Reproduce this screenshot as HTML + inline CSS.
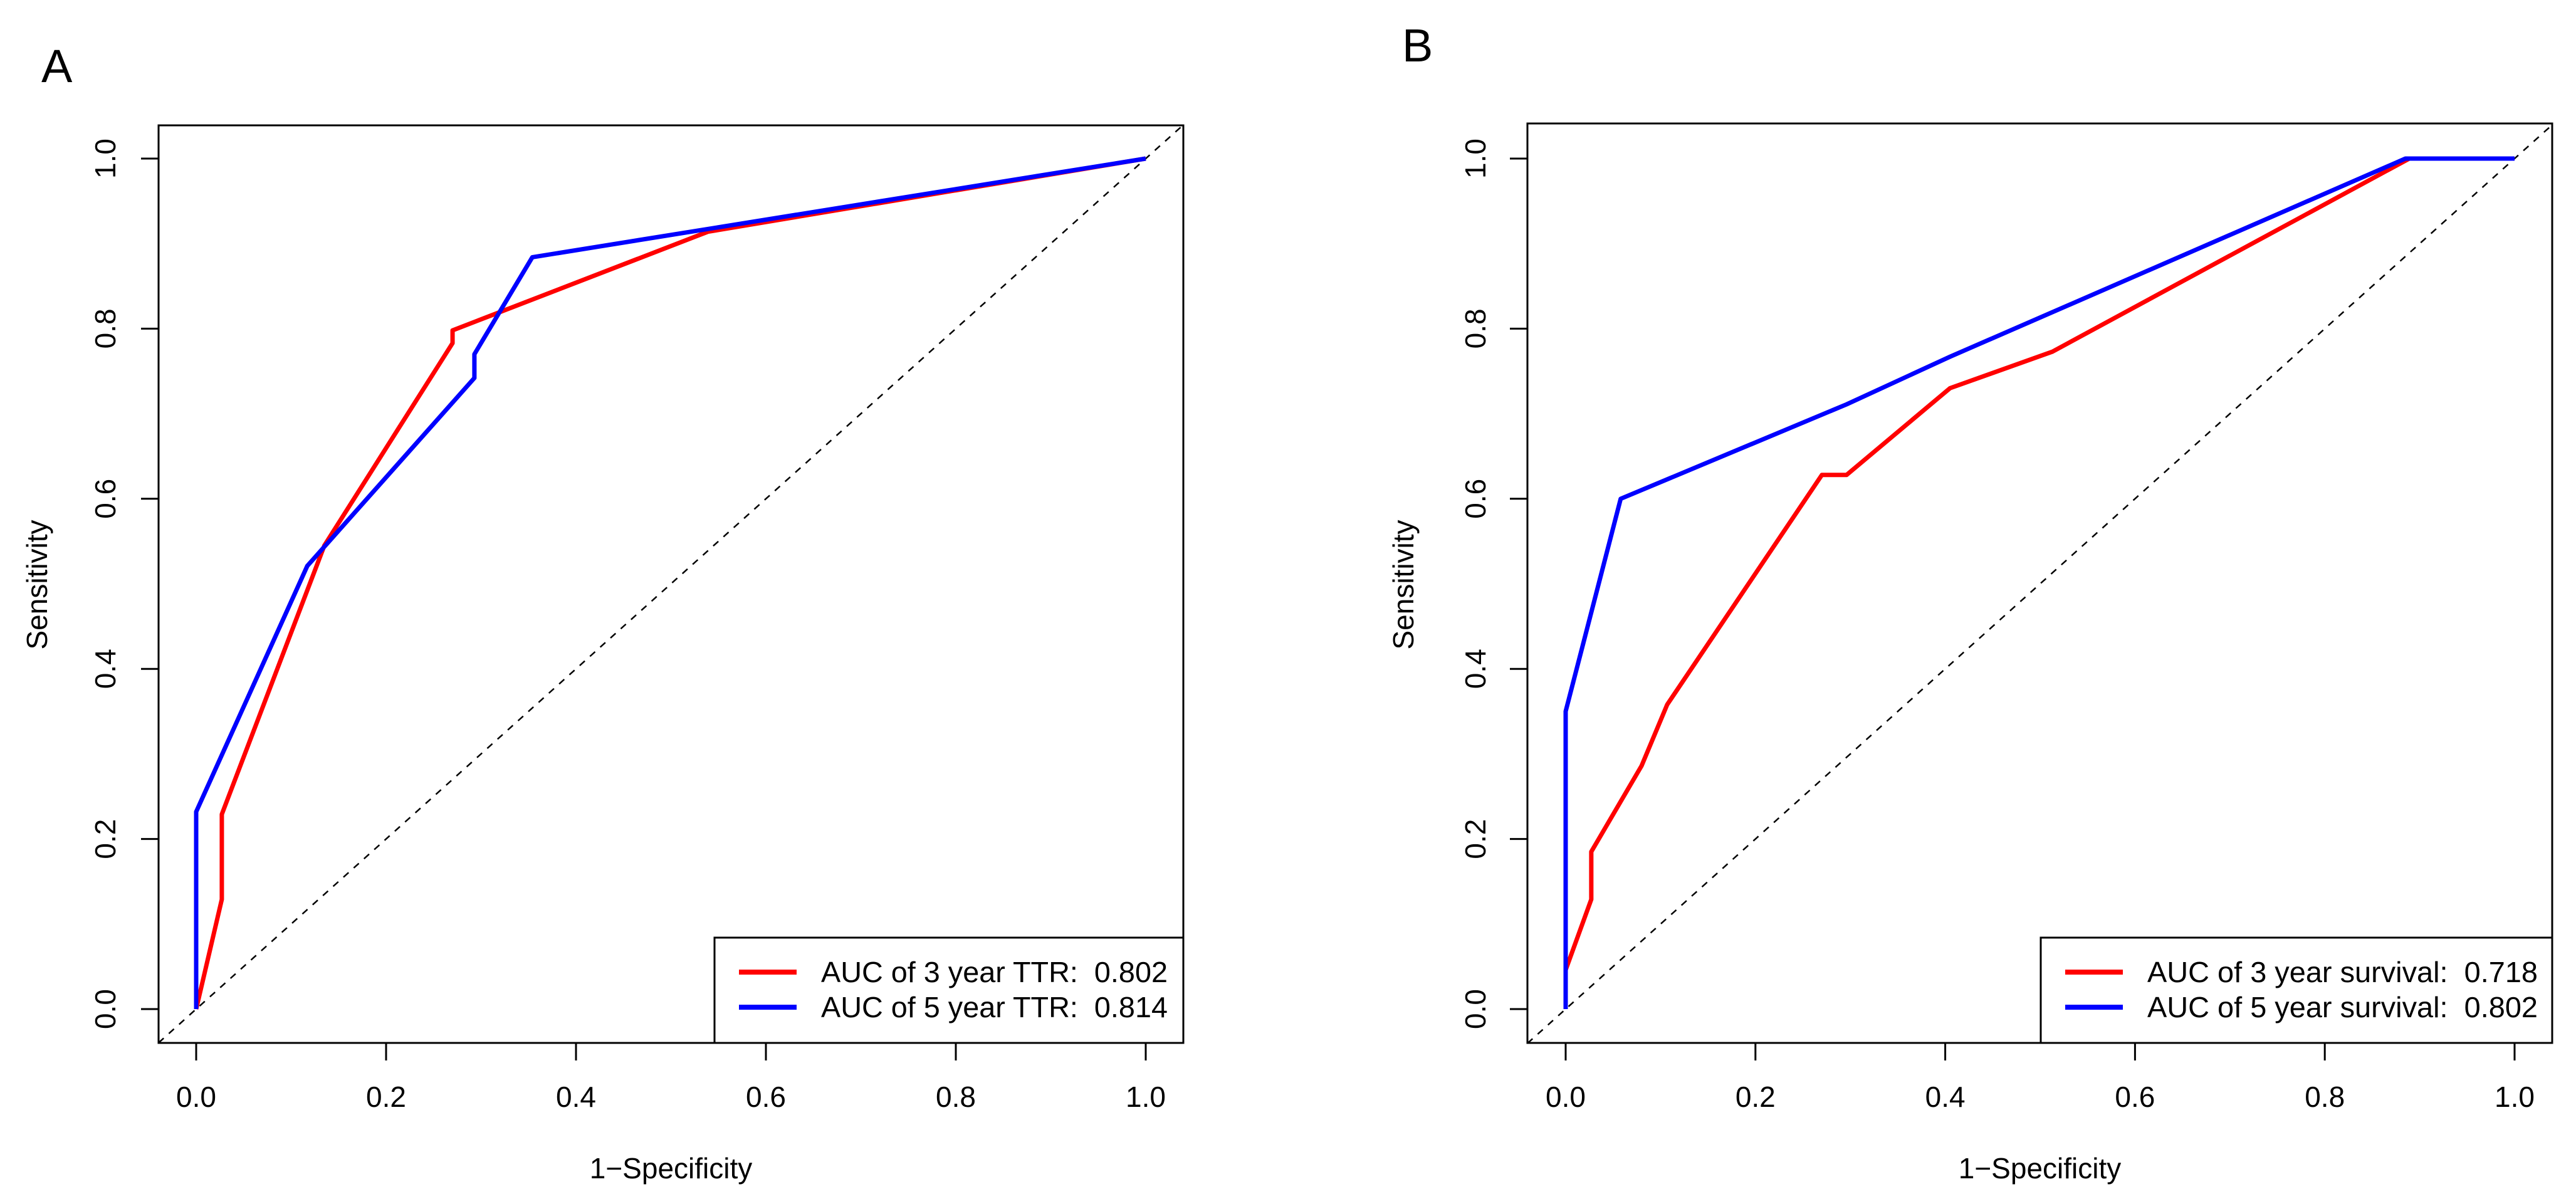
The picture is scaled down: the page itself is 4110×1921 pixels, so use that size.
<!DOCTYPE html>
<html><head><meta charset="utf-8"><style>
html,body{margin:0;padding:0;background:#fff}
svg{display:block;font-family:"Liberation Sans",Arial,sans-serif}
</style></head><body>
<svg id="c" width="4110" height="1921" viewBox="0 0 4110 1921" xmlns="http://www.w3.org/2000/svg"></svg>
<script>
const ticks=[0,0.2,0.4,0.6,0.8,1.0];
const tickLabels=["0.0","0.2","0.4","0.6","0.8","1.0"];
const aRedX=[0,0.027,0.027,0.135,0.27,0.27,0.539,1];
const aRedY=[0,0.129,0.229,0.545,0.783,0.798,0.914,1];
const aBlueX=[0,0,0.117,0.293,0.293,0.354,1];
const aBlueY=[0,0.232,0.521,0.742,0.77,0.884,1];
const bRedX=[0,0,0.027,0.027,0.08,0.107,0.27,0.296,0.405,0.513,0.889,1];
const bRedY=[0,0.046,0.129,0.185,0.286,0.358,0.628,0.628,0.73,0.773,1,1];
const bBlueX=[0,0,0.058,0.296,0.405,0.885,1];
const bBlueY=[0,0.35,0.6,0.711,0.767,1,1];
const aLegend=["AUC of 3 year TTR:  0.802","AUC of 5 year TTR:  0.814"];
const bLegend=["AUC of 3 year survival:  0.718","AUC of 5 year survival:  0.802"];
const svg=document.getElementById('c');
const NS="http://www.w3.org/2000/svg";
function mk(t,a,p){const e=document.createElementNS(NS,t);for(const k in a)e.setAttribute(k,a[k]);(p||svg).appendChild(e);return e;}
function panel(o){
  const g=mk('g',{});
  
  
  const X=v=>o.x0+v*o.xs, Y=v=>1610-v*1357;
  const cid='clip'+o.id;
  const cp=mk('clipPath',{id:cid},g);mk('rect',{x:o.L,y:o.T,width:o.R-o.L,height:1664-o.T},cp);
  const d=mk('line',{x1:o.L,y1:Y((o.L-o.x0)/o.xs),x2:o.R,y2:Y((o.R-o.x0)/o.xs),stroke:'#000','stroke-width':2.5,'stroke-dasharray':'11 11','clip-path':'url(#'+cid+')'},g);
  
  
  [[o.rx,o.ry,'#ff0000','red'],[o.bx,o.by,'#0000ff','blue']].forEach(s=>{
    const pl=mk('polyline',{points:s[0].map((v,i)=>X(v)+','+Y(s[1][i])).join(' '),fill:'none',stroke:s[2],'stroke-width':7,'stroke-linejoin':'round'},g);
    
    
  });
  const box=mk('rect',{x:o.L,y:o.T,width:o.R-o.L,height:1664-o.T,fill:'none',stroke:'#000','stroke-width':3},g);
  
  
  ticks.forEach((t,i)=>{
    mk('line',{x1:X(t),y1:1664,x2:X(t),y2:1692,stroke:'#000','stroke-width':3},g);
    const tx=mk('text',{x:X(t),y:1766,'font-size':46,'text-anchor':'middle'},g);tx.textContent=tickLabels[i];
    
    
    mk('line',{x1:o.L,y1:Y(t),x2:o.L-28,y2:Y(t),stroke:'#000','stroke-width':3},g);
    const ty=mk('text',{x:0,y:0,'font-size':46,'text-anchor':'middle',transform:`translate(${o.ytx+16},${Y(t)}) rotate(-90)`},g);ty.textContent=tickLabels[i];
    
    
  });
  const xt=mk('text',{x:(o.L+o.R)/2,y:1880,'font-size':46,'text-anchor':'middle'},g);xt.textContent='1\u2212Specificity';
  
  
  const yt=mk('text',{x:0,y:0,'font-size':46,'text-anchor':'middle',transform:`translate(${o.yl+16},933) rotate(-90)`},g);yt.textContent='Sensitivity';
  
  
  const lt=mk('text',{x:o.lx,y:o.ly,'font-size':74},g);lt.textContent=o.id;
  
  
  const lg=mk('g',{},g);
  
  
  mk('rect',{x:o.legL,y:1496,width:o.R-o.legL,height:168,fill:'#fff',stroke:'#000','stroke-width':3},lg);
  [['#ff0000',1551,o.leg[0]],['#0000ff',1607,o.leg[1]]].forEach(r=>{
    const le=mk('g',{},lg);
    
    
    mk('line',{x1:o.legL+39,x2:o.legL+131,y1:r[1],y2:r[1],stroke:r[0],'stroke-width':8},le);
    const t=mk('text',{x:o.legL+170,y:r[1]+16,'font-size':46,textLength:o.tl,lengthAdjust:'spacingAndGlyphs',style:'white-space:pre'},le);t.textContent=r[2];
  });
}
panel({id:'A',L:253,R:1888,T:200,x0:313,xs:1515,rx:aRedX,ry:aRedY,bx:aBlueX,by:aBlueY,ytx:168,yl:59,lx:66,ly:131,legL:1140,leg:aLegend,tl:553});
panel({id:'B',L:2437,R:4072,T:197,x0:2498,xs:1514,rx:bRedX,ry:bRedY,bx:bBlueX,by:bBlueY,ytx:2354,yl:2239,lx:2237,ly:98,legL:3256,leg:bLegend,tl:623});
</script>
</body></html>
